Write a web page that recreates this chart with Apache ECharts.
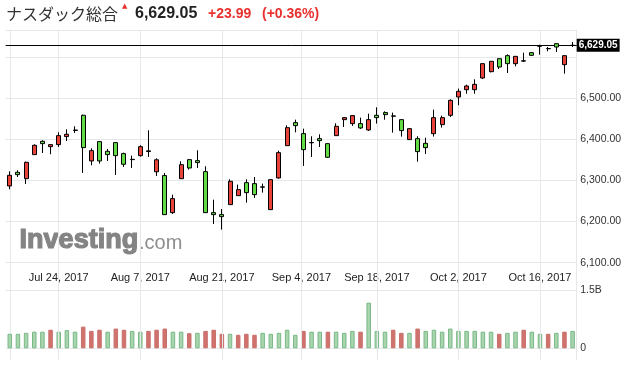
<!DOCTYPE html>
<html><head><meta charset="utf-8">
<script src="https://cdn.jsdelivr.net/npm/echarts@6/dist/echarts.min.js"></script>
<style>html,body{margin:0;padding:0;background:#fff}#c{width:627px;height:369px}</style>
</head><body><div id="c"></div>
<script>
const dates = ['2017-07-14','2017-07-17','2017-07-18','2017-07-19','2017-07-20','2017-07-21','2017-07-24','2017-07-25','2017-07-26','2017-07-27',
'2017-07-28','2017-07-31','2017-08-01','2017-08-02','2017-08-03','2017-08-04','2017-08-07','2017-08-08','2017-08-09','2017-08-10',
'2017-08-11','2017-08-14','2017-08-15','2017-08-16','2017-08-17','2017-08-18','2017-08-21','2017-08-22','2017-08-23','2017-08-24',
'2017-08-25','2017-08-28','2017-08-29','2017-08-30','2017-08-31','2017-09-01','2017-09-05','2017-09-06','2017-09-07','2017-09-08',
'2017-09-11','2017-09-12','2017-09-13','2017-09-14','2017-09-15','2017-09-18','2017-09-19','2017-09-20','2017-09-21','2017-09-22',
'2017-09-25','2017-09-26','2017-09-27','2017-09-28','2017-09-29','2017-10-02','2017-10-03','2017-10-04','2017-10-05','2017-10-06',
'2017-10-09','2017-10-10','2017-10-11','2017-10-12','2017-10-13','2017-10-16','2017-10-17','2017-10-18','2017-10-19','2017-10-20'];
const opens = [6286.7,6320.0,6304.6,6363.0,6395.4,6382.4,6387.3,6406.8,6421.8,6458.7,
6347.6,6394.6,6371.1,6392.2,6365.4,6350.8,6360.5,6372.2,6321.2,6312.0,
6221.8,6304.5,6350.8,6348.3,6321.6,6221.8,6217.0,6241.3,6263.2,6294.8,
6292.4,6283.8,6229.1,6306.2,6384.8,6440.8,6414.1,6391.8,6401.9,6389.7,
6409.2,6448.1,6438.4,6438.4,6423.0,6458.7,6465.2,6456.5,6448.1,6399.5,
6401.9,6390.5,6414.0,6436.0,6458.6,6503.2,6521.0,6521.0,6549.4,6564.8,
6596.5,6603.8,6584.3,6590.5,6611.1,6626.8,6620.6,6633.0,6581.9,6628.6];
const closes = [6312.7,6314.3,6344.3,6385.7,6389.7,6387.3,6409.2,6412.5,6422.8,6380.0,
6372.7,6347.6,6363.0,6360.5,6339.5,6351.5,6382.4,6370.5,6350.4,6217.0,
6255.9,6338.6,6330.5,6343.5,6221.8,6217.0,6212.1,6298.1,6277.8,6270.5,
6265.6,6284.5,6302.1,6367.8,6428.6,6433.5,6375.1,6392.5,6397.0,6356.5,
6431.9,6453.0,6457.9,6427.9,6448.1,6453.0,6460.3,6457.2,6421.4,6426.2,
6370.3,6380.0,6453.0,6453.0,6495.1,6517.0,6530.0,6534.0,6584.3,6590.0,
6576.2,6584.3,6602.1,6591.3,6604.6,6627.5,6621.2,6624.9,6603.8,6629.05];
const lows = [6278.6,6308.6,6291.6,6362.5,6367.0,6363.8,6381.6,6396.2,6415.7,6318.4,
6337.0,6341.1,6347.6,6313.5,6333.0,6330.5,6358.1,6357.3,6311.1,6216.0,
6218.6,6304.0,6326.4,6330.5,6221.0,6194.2,6180.5,6241.0,6263.0,6246.2,
6257.5,6270.5,6229.0,6304.5,6384.0,6417.3,6335.4,6357.3,6381.6,6354.9,
6409.0,6430.3,6432.7,6425.4,6420.6,6438.4,6448.1,6416.5,6406.8,6399.0,
6345.9,6364.6,6406.8,6428.7,6454.5,6483.0,6511.3,6511.3,6547.0,6563.2,
6571.3,6561.6,6577.8,6588.4,6603.0,6606.2,6614.3,6612.7,6560.0,6624.9];
const highs = [6322.4,6324.9,6346.0,6388.0,6397.9,6388.0,6417.3,6424.6,6431.9,6460.3,
6378.4,6395.0,6376.8,6392.5,6367.8,6360.5,6385.7,6422.2,6354.0,6318.3,
6265.6,6346.7,6351.2,6373.5,6334.6,6253.4,6230.7,6302.9,6290.0,6302.9,
6308.6,6292.4,6302.5,6372.7,6434.3,6448.1,6426.2,6407.6,6412.4,6390.3,
6439.2,6454.0,6459.0,6453.0,6462.7,6478.1,6468.4,6465.2,6449.0,6427.0,
6407.6,6404.3,6472.5,6457.9,6497.5,6523.5,6533.2,6546.2,6585.0,6590.5,
6597.0,6607.0,6603.0,6611.1,6612.7,6630.5,6624.9,6633.2,6604.3,6637.0];
// volume in billions
const volumes = [0.375,0.375,0.40,0.43,0.43,0.48,0.43,0.47,0.43,0.56,
0.45,0.48,0.43,0.51,0.48,0.45,0.43,0.45,0.48,0.51,
0.43,0.43,0.39,0.40,0.45,0.48,0.375,0.375,0.35,0.375,
0.35,0.40,0.375,0.40,0.48,0.35,0.45,0.43,0.43,0.43,
0.43,0.40,0.45,0.43,1.18,0.45,0.43,0.48,0.40,0.40,
0.51,0.45,0.48,0.43,0.51,0.45,0.45,0.45,0.43,0.43,
0.375,0.40,0.43,0.48,0.43,0.375,0.375,0.40,0.43,0.45];
// 1 = close above previous close (green volume bar), 0 = below (red)
const volumeUp = [1,1,1,1,1,0,1,1,1,0, 0,0,1,0,0,1,1,0,0,0, 1,1,0,1,0,0,0,1,0,0,
0,1,1,1,1,1,0,1,1,0, 1,1,1,0,1,1,1,0,0,1, 0,1,1,1,1,1,1,1,1,1, 0,1,1,0,1,1,0,1,0,1];
const tickDates = ['2017-07-24','2017-08-07','2017-08-21','2017-09-04','2017-09-18','2017-10-02','2017-10-16'];
const tickLabels = ['Jul 24, 2017','Aug 7, 2017','Aug 21, 2017','Sep 4, 2017','Sep 18, 2017','Oct 2, 2017','Oct 16, 2017'];
const priceMin = 6100, priceMax = 6665.5, priceStep = 100;
const volumeMax = 1.5;
const titleText = 'ナスダック総合';
const lastPrice = 6629.05, change = 23.99, changePct = 0.36;

function fmt(v) {
  const s = v.toFixed(2).split('.');
  return s[0].replace(/\B(?=(\d{3})+$)/g, ',') + '.' + s[1];
}
// position of a calendar date on the trading-day index scale
function posOf(ds) {
  const t = Date.parse(ds);
  const ts = dates.map(d => Date.parse(d));
  for (let i = 0; i < ts.length; i++) {
    if (ts[i] === t) return i;
    if (i < ts.length - 1 && ts[i] < t && t < ts[i + 1]) return i + (t - ts[i]) / (ts[i + 1] - ts[i]);
  }
  return 0;
}
const tickPos = tickDates.map(posOf);

const GRID = '#e5e7eb';
const FONT = 'Liberation Sans, Arial, sans-serif';
const L = 5.7, R = 627 - 576.7;

const chart = echarts.init(document.getElementById('c'), null, {renderer: 'canvas'});
chart.setOption({
  animation: false,
  backgroundColor: '#fff',
  grid: [
    {left: L, right: R, top: 30.3, height: 232.4, outerBoundsMode: 'none'},
    {left: L, right: R, top: 262.7, height: 27.6, outerBoundsMode: 'none'},
    {left: L, right: R, top: 290.3, height: 58, outerBoundsMode: 'none'},
    {left: L, right: R, top: 30.3, height: 329.7, outerBoundsMode: 'none'}
  ],
  xAxis: [
    {type: 'category', gridIndex: 0, data: dates, boundaryGap: true, show: false},
    {type: 'value', gridIndex: 1, min: -0.5, max: 69.5, position: 'bottom',
      axisLine: {show: false}, axisTick: {show: false}, splitLine: {show: false},
      axisLabel: {inside: true, margin: 7, customValues: tickPos, fontSize: 11, color: '#222', fontFamily: FONT,
        showMinLabel: true, showMaxLabel: true,
        formatter: v => { const i = tickPos.findIndex(p => Math.abs(p - v) < 1e-6); return i >= 0 ? tickLabels[i] : ''; }}},
    {type: 'category', gridIndex: 2, data: dates, boundaryGap: true, show: false},
    {type: 'value', gridIndex: 3, min: -0.5, max: 69.5, show: false}
  ],
  yAxis: [
    {type: 'value', gridIndex: 0, position: 'right', min: priceMin, max: priceMax, interval: priceStep,
      axisLine: {show: false}, axisTick: {show: false},
      splitLine: {show: true, lineStyle: {color: GRID, width: 1}},
      axisLabel: {margin: 3.5, fontSize: 10.5, color: '#333', fontFamily: FONT, showMaxLabel: false,
        formatter: v => (v > 6550 ? '' : fmt(v))}},
    {type: 'value', gridIndex: 1, min: 0, max: 1, show: false},
    {type: 'value', gridIndex: 2, position: 'right', min: 0, max: volumeMax, interval: volumeMax,
      axisLine: {show: false}, axisTick: {show: false},
      splitLine: {show: true, lineStyle: {color: GRID, width: 1}},
      axisLabel: {margin: 3.5, fontSize: 10.5, color: '#333', fontFamily: FONT,
        formatter: v => (v === 0 ? '0' : v + 'B')}},
    {type: 'value', gridIndex: 3, position: 'left', min: 0, max: 1,
      axisLine: {show: true, lineStyle: {color: GRID}}, axisTick: {show: false}, axisLabel: {show: false}, splitLine: {show: false}},
    {type: 'value', gridIndex: 3, position: 'right', min: 0, max: 1,
      axisLine: {show: true, lineStyle: {color: GRID}}, axisTick: {show: false}, axisLabel: {show: false}, splitLine: {show: false}}
  ],
  series: [
    {
      type: 'line', xAxisIndex: 3, yAxisIndex: 3, data: [], z: 0, silent: true,
      markLine: {silent: true, symbol: ['none', 'none'], label: {show: false},
        lineStyle: {color: GRID, width: 1, type: 'solid'},
        data: tickPos.map(p => ({xAxis: p}))}
    },
    {
      type: 'candlestick', xAxisIndex: 0, yAxisIndex: 0, z: 5, barWidth: 4.5,
      data: dates.map((d, i) => [opens[i], closes[i], lows[i], highs[i]]),
      itemStyle: {color: '#e8433b', color0: '#62dc45', borderColor: '#000', borderColor0: '#000', borderWidth: 1},
      markLine: {silent: true, symbol: ['none', 'none'],
        lineStyle: {color: '#000', width: 1, type: 'solid'},
        label: {show: true, position: 'end', distance: 0, formatter: () => fmt(lastPrice),
          backgroundColor: '#000', color: '#fff', fontWeight: 'bold', fontSize: 10, fontFamily: FONT, padding: [2, 2, 1, 2]},
        data: [{yAxis: lastPrice}]}
    },
    {
      type: 'bar', xAxisIndex: 2, yAxisIndex: 2, barWidth: 4.5, z: 3,
      data: volumes.map((v, i) => ({value: v, itemStyle: volumeUp[i]
        ? {color: '#a9d5ae', borderColor: '#78b886', borderWidth: 1}
        : {color: '#d0736e', borderColor: '#c96d68', borderWidth: 1}}))
    }
  ],
  graphic: [
    {type: 'text', left: 6, top: 6, style: {text: titleText, fontSize: 16, fill: '#333', fontFamily: 'Noto Sans CJK JP'}},
    {type: 'text', left: 122, top: 3, style: {text: '▲', fontSize: 7, fill: '#e8312f', fontFamily: 'DejaVu Sans'}},
    {type: 'text', left: 135, top: 6, style: {text: fmt(lastPrice), fontSize: 16, fontWeight: 'bold', fill: '#222', fontFamily: FONT}},
    {type: 'text', left: 208, top: 7.5, style: {text: '+' + change.toFixed(2), fontSize: 14, fontWeight: 'bold', fill: '#e8312f', fontFamily: FONT}},
    {type: 'text', left: 262, top: 7.5, style: {text: '(+' + changePct.toFixed(2) + '%)', fontSize: 14, fontWeight: 'bold', fill: '#e8312f', fontFamily: FONT}},
    {type: 'text', left: 19, top: 226, z: 1, style: {text: 'Investing', fontSize: 27, fontWeight: 'bold', fill: '#848484', stroke: '#848484', lineWidth: 1.2, fontFamily: FONT}},
    {type: 'text', left: 139, top: 233, z: 1, style: {text: '.com', fontSize: 20, fill: '#8e8e8e', fontFamily: FONT}}
  ]
});
</script></body></html>
